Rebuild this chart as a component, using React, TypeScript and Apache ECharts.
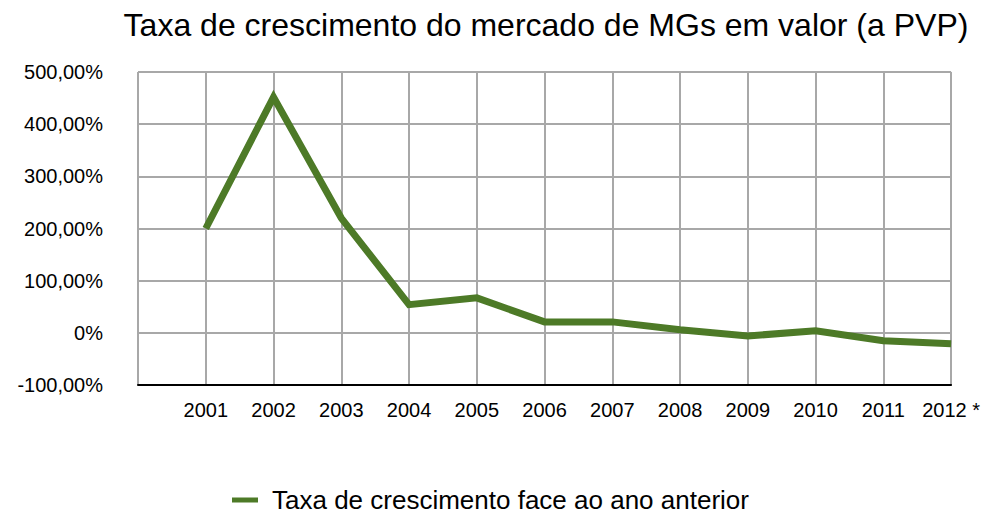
import React, { useEffect, useRef } from "react";
import * as echarts from "echarts";

const categories = ["", "2001", "2002", "2003", "2004", "2005", "2006", "2007", "2008", "2009", "2010", "2011", "2012 *"];
const growth = [null, 200, 452, 220, 54, 67, 21, 21, 6, -6, 4, -15, -21];
const seriesName = "Taxa de crescimento face ao ano anterior";
const titleText = "Taxa de crescimento do mercado de MGs em valor (a PVP)";

export default function App() {
  const ref = useRef<HTMLDivElement>(null);
  useEffect(() => {
    const chart = echarts.init(ref.current!, null, { renderer: "svg" });
    const font = "'Liberation Sans', Arial, Helvetica, sans-serif";
    chart.setOption({
      animation: false,
      textStyle: { fontFamily: font },
      title: {
        text: titleText,
        left: 541,
        textAlign: "center",
        top: 4,
        textStyle: { fontSize: 32, fontWeight: "normal", color: "#000", fontFamily: font },
      },
      legend: {
        top: 487,
        padding: 0,
        left: 232,
        icon: "rect",
        itemWidth: 26,
        itemHeight: 5,
        itemGap: 10,
        textStyle: { fontSize: 26, lineHeight: 26, color: "#000", fontFamily: font, padding: [0, 0, 0, 9] },
        data: [{ name: seriesName, itemStyle: { color: "#4d7a27" } }],
      },
      grid: { left: 138, right: 31, top: 72, bottom: 130, containLabel: false },
      xAxis: {
        type: "category",
        data: categories,
        boundaryGap: false,
        axisLine: { show: true, onZero: false, lineStyle: { color: "#000", width: 2 } },
        axisTick: { show: false },
        axisLabel: { fontSize: 20, color: "#000", margin: 15, fontFamily: font, interval: 0 },
        splitLine: { show: true, lineStyle: { color: "#a8a8a8", width: 2 } },
      },
      yAxis: {
        type: "value",
        min: -100,
        max: 500,
        interval: 100,
        axisLine: { show: false },
        axisTick: { show: false },
        axisLabel: {
          fontSize: 20,
          color: "#000",
          margin: 35,
          fontFamily: font,
          formatter: (v: number) => (v === 0 ? "0%" : v.toFixed(2).replace(".", ",") + "%"),
        },
        splitLine: { show: true, lineStyle: { color: "#a8a8a8", width: 2 } },
      },
      series: [
        {
          name: seriesName,
          type: "line",
          data: growth,
          symbol: "none",
          lineStyle: { color: "#4d7a27", width: 7, join: "miter" },
          itemStyle: { color: "#4d7a27" },
        },
      ],
    });
    return () => chart.dispose();
  }, []);
  return <div ref={ref} style={{ width: 983, height: 515, position: "absolute", left: 0, top: 0 }} />;
}
